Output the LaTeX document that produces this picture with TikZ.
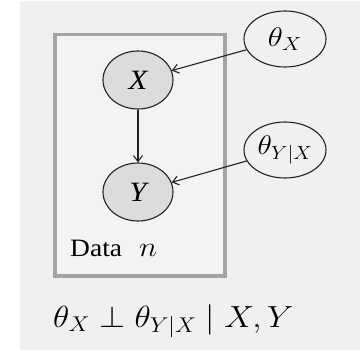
\documentclass[tikz,border=0pt]{standalone}
\usepackage{fix-cm}
\usepackage{graphicx}
\usepackage{fontspec}
\setmainfont{Liberation Serif}
\usetikzlibrary{shapes.geometric,arrows.meta}
\definecolor{bgc}{HTML}{F0F0F0}
\definecolor{platec}{HTML}{A3A3A3}
\definecolor{obsc}{HTML}{DCDCDC}
\definecolor{linec}{HTML}{222222}
\newcommand{\wide}[1]{\scalebox{1.1}[1]{#1}}
\tikzset{
  obsnode/.style={ellipse,draw=linec,line width=1.1pt,fill=obsc,minimum width=70pt,minimum height=58pt,inner sep=0pt,font=\fontsize{28}{30}\selectfont},
  parnode/.style={ellipse,draw=linec,line width=1.1pt,fill=bgc,minimum width=82pt,minimum height=56pt,inner sep=0pt,font=\fontsize{27}{30}\selectfont},
  edge/.style={draw=linec,line width=1.1pt,-{Straight Barb[length=6pt,width=9pt]}},
}
\begin{document}
\begin{tikzpicture}[x=1pt,y=-1pt]
\useasboundingbox (0,0) rectangle (360,351);
\fill[white] (0,0) rectangle (360,351);
\fill[bgc] (20,1) rectangle (360,350);
\draw[platec,line width=3.5pt,fill=white!20!bgc] (55,34.5) rectangle (225,276);
\node[obsnode] (X) at (138,80) {\wide{\itshape X}};
\node[obsnode] (Y) at (138,192) {\wide{\itshape Y}};
\node[parnode] (tX) at (285,39) {\scalebox{1.15}[1]{$\theta_X$}};
\node[parnode] (tYX) at (285,150) {\wide{$\theta_{Y|X}$}};
\node[anchor=base west,inner sep=0pt,font=\fontsize{25}{27}\selectfont] (data) at (70,256) {\wide{Data}};
\node[anchor=base west,inner sep=0pt,font=\fontsize{28}{30}\selectfont] (n) at (139,256) {\wide{$n$}};
\node[anchor=base west,inner sep=0pt,font=\fontsize{30.5}{33}\selectfont] (ci) at (53,327) {\wide{$\theta_X \perp \theta_{Y|X} \mid X, Y$}};
\draw[edge] (tX) -- (X);
\draw[edge] (tYX) -- (Y);
\draw[edge] (X) -- (Y);
\end{tikzpicture}
\end{document}
